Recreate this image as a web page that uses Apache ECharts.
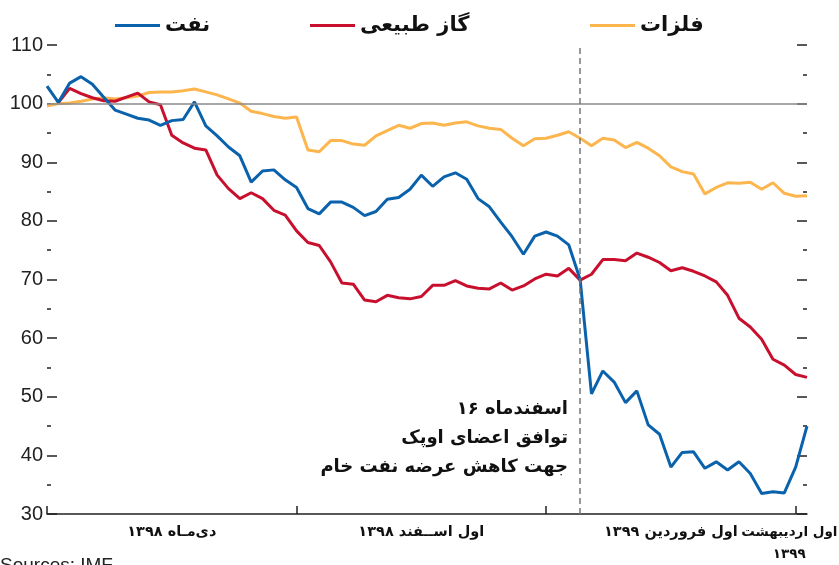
<!DOCTYPE html>
<html lang="fa">
<head>
    <meta charset="UTF-8">
    <title>نفت، گاز طبیعی، فلزات</title>
    <style>
        html, body { margin: 0; padding: 0; background: #fff; }
    </style>
</head>
<body>
    <div id="app" style="width: 839px;height:565px;"></div>
    <script src="https://cdn.jsdelivr.net/npm/echarts@6/dist/echarts.min.js"></script>
    <script>
        // trading days, index only
        const days = Array.from({ length: 68 }, (_, i) => i);

        const oil = [103.0, 100.2, 103.5, 104.6, 103.3, 101.1, 98.9, 98.2, 97.5, 97.2,
            96.3, 97.1, 97.3, 100.3, 96.2, 94.5, 92.6, 91.1, 86.6, 88.5,
            88.7, 87.0, 85.7, 82.1, 81.2, 83.2, 83.2, 82.3, 80.9, 81.6,
            83.7, 84.0, 85.4, 87.8, 85.9, 87.5, 88.2, 87.1, 83.8, 82.4,
            79.8, 77.3, 74.3, 77.4, 78.1, 77.4, 75.9, 70.0, 50.5, 54.4,
            52.5, 49.0, 51.0, 45.2, 43.6, 38.0, 40.5, 40.6, 37.8, 38.9,
            37.5, 38.9, 36.9, 33.5, 33.8, 33.6, 38.0, 45.0];

        const gas = [null, 100.2, 102.6, 101.7, 101.0, 100.5, 100.4, 101.1, 101.8, 100.3,
            99.8, 94.6, 93.3, 92.4, 92.1, 87.8, 85.5, 83.8, 84.8, 83.8,
            81.8, 81.0, 78.3, 76.3, 75.8, 73.0, 69.4, 69.2, 66.5, 66.2,
            67.3, 66.9, 66.7, 67.1, 69.0, 69.0, 69.8, 68.9, 68.5, 68.4,
            69.4, 68.2, 68.9, 70.1, 70.9, 70.6, 71.9, 69.9, 70.9, 73.4,
            73.4, 73.2, 74.5, 73.8, 72.9, 71.5, 72.0, 71.4, 70.6, 69.6,
            67.3, 63.4, 61.9, 59.8, 56.4, 55.4, 53.8, 53.3];

        const metals = [99.6, 100.0, 100.1, 100.4, 100.8, 101.0, 100.8, 101.0, 101.3, 101.9,
            102.0, 102.0, 102.2, 102.5, 102.0, 101.5, 100.8, 100.1, 98.7, 98.3,
            97.8, 97.5, 97.7, 92.1, 91.8, 93.7, 93.7, 93.1, 92.9, 94.5,
            95.4, 96.3, 95.8, 96.6, 96.7, 96.3, 96.7, 96.9, 96.2, 95.8,
            95.6, 94.1, 92.8, 94.0, 94.1, 94.6, 95.2, 94.1, 92.8, 94.1,
            93.8, 92.5, 93.4, 92.4, 91.1, 89.2, 88.4, 88.0, 84.6, 85.7,
            86.5, 86.4, 86.6, 85.4, 86.5, 84.7, 84.2, 84.3];

        const seriesNames = ['نفت', 'گاز طبیعی', 'فلزات'];
        const tickDays = [0, 22, 44, 66];
        const labelDays = [11, 33, 55, 65];
        const tickLabels = ['دی‌مـاه ۱۳۹۸', 'اول اســفند ۱۳۹۸', 'اول فروردین ۱۳۹۹', 'اول اردیبهشت\n۱۳۹۹'];
        const opecDay = 47;
        const baseLine = 100;
        // canvas lays these lines out right-to-left
        const note = 'اسفندماه ۱۶\nتوافق اعضای اوپک\nجهت کاهش عرضه نفت خام';
        const source = 'Sources: IMF';

        const faFont = 'DejaVu Sans';

        const myChart = echarts.init(document.getElementById('app'));

        const legendText = { fontFamily: faFont, fontWeight: 'bold', fontSize: 21, color: '#111' };
        const mkLegend = (name, left) => ({
            data: [name], left: left, top: 10, icon: 'rect',
            itemWidth: 45, itemHeight: 3, itemGap: 0,
            textStyle: legendText, selectedMode: false
        });

        const yTicks = (pos, showLabel) => ({
            type: 'value', position: pos, min: 30, max: 110, interval: 10,
            axisLine: { show: false },
            axisTick: { show: true, inside: true, length: 10, lineStyle: { color: '#222', width: 1.5 } },
            minorTick: { show: true, splitNumber: 2, length: 4, lineStyle: { color: '#222', width: 1.5 } },
            splitLine: { show: false },
            axisLabel: { show: showLabel, margin: 4, fontFamily: 'Liberation Sans', fontSize: 20, color: '#222' }
        });

        // labels split over two axes so the crowded last one is not dropped
        const labelAxis = (from, to, main) => {
            const at = {};
            labelDays.slice(from, to).forEach((d, i) => { at[d] = tickLabels[from + i]; });
            return {
                type: 'category', data: days, boundaryGap: false, position: 'bottom',
                axisLine: { show: main, lineStyle: { color: '#222', width: 1.5 } },
                axisTick: {
                    show: main, inside: true, length: 8,
                    interval: (idx) => tickDays.includes(idx),
                    lineStyle: { color: '#222', width: 1.5 }
                },
                axisLabel: {
                    interval: (idx) => at[idx] !== undefined,
                    formatter: (val, idx) => at[idx] || '',
                    hideOverlap: false,
                    padding: main ? 0 : [0, 0, 0, 10],
                    margin: 7, fontFamily: faFont, fontWeight: 'bold', fontSize: main ? 14.5 : 13.5,
                    color: '#111', lineHeight: 22
                }
            };
        };

        const options = {
            animation: false,
            legend: [mkLegend(seriesNames[0], 110), mkLegend(seriesNames[1], 305), mkLegend(seriesNames[2], 585)],
            grid: { left: 47, right: 32, top: 45, bottom: 51, outerBoundsMode: 'none', containLabel: false },
            xAxis: [labelAxis(0, 3, true), labelAxis(3, 4, false)],
            yAxis: [yTicks('left', true), yTicks('right', false)],
            graphic: [
                {
                    type: 'text', x: 568, y: 395,
                    style: {
                        text: note, align: 'right', verticalAlign: 'top',
                        font: 'bold 18px "' + faFont + '"', lineHeight: 29, fill: '#111'
                    }
                },
                {
                    type: 'text', x: 0, y: 556,
                    style: { text: source, verticalAlign: 'top', font: '19px "Liberation Sans"', fill: '#222' }
                }
            ],
            series: [
                {
                    name: seriesNames[2], type: 'line', data: metals, showSymbol: false,
                    lineStyle: { color: '#FDB54E', width: 3 }, itemStyle: { color: '#FDB54E' },
                    markLine: {
                        silent: true, symbol: ['none', 'none'], label: { show: false },
                        lineStyle: { color: '#8a8a8a', type: 'solid', width: 1.5 },
                        data: [{ yAxis: baseLine }]
                    }
                },
                {
                    name: seriesNames[1], type: 'line', data: gas, showSymbol: false,
                    lineStyle: { color: '#C8102E', width: 3 }, itemStyle: { color: '#C8102E' },
                    markLine: {
                        silent: true, symbol: ['none', 'none'], label: { show: false },
                        lineStyle: { color: '#777', type: [6, 4], width: 1.5 },
                        data: [{ xAxis: opecDay }]
                    }
                },
                {
                    name: seriesNames[0], type: 'line', data: oil, showSymbol: false,
                    lineStyle: { color: '#0B62AC', width: 3 }, itemStyle: { color: '#0B62AC' }
                }
            ]
        };
        myChart.setOption(options);
    </script>
</body>
</html>
